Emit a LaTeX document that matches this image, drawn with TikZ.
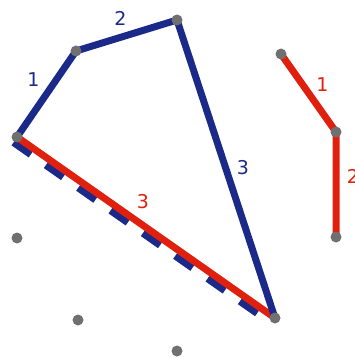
\documentclass[tikz,border=0pt]{standalone}
\usepackage{fontspec}
\setmainfont{DejaVu Sans}
\definecolor{navy}{HTML}{1B2A88}
\definecolor{redline}{HTML}{E0200F}
\definecolor{dotgray}{HTML}{707070}
\tikzset{
  blueline/.style={draw=navy, line width=7pt, line join=round},
  redpath/.style={draw=redline, line width=7pt, line join=round},
  dot/.style={circle, fill=dotgray, inner sep=0pt, minimum size=11pt},
  lbl/.style={font=\fontsize{19}{19}\selectfont, inner sep=0pt}
}
\begin{document}
\begin{tikzpicture}[x=1pt, y=-1pt]
  \useasboundingbox (0,0) rectangle (355,358);
  % vertices
  \coordinate (A) at (17,137);
  \coordinate (B) at (76,51);
  \coordinate (C) at (177,20);
  \coordinate (D) at (275,318);
  \coordinate (E) at (281,54);
  \coordinate (F) at (336,132);
  \coordinate (G) at (336,237);
  \coordinate (H) at (17,238);
  \coordinate (I) at (78,320);
  \coordinate (J) at (177,351);
  % dashed blue under the red side
  \draw[blueline, dash pattern=on 21pt off 18.5pt, shorten >=12pt]
    ([shift={(-3.5,5.5)}]A) -- ([shift={(-3.5,5.5)}]D);
  \draw[redpath] (A) -- node[lbl, text=redline, midway, shift={(-3,-26)}] {3} (D);
  % blue polygon
  \draw[blueline] (A) -- node[lbl, text=navy, midway, shift={(-13,-14)}] {1} (B)
    -- node[lbl, text=navy, midway, shift={(-6,-17)}] {2} (C)
    -- node[lbl, text=navy, midway, shift={(17,-1)}] {3} (D);
  % red path
  \draw[redpath] (E) -- node[lbl, text=redline, midway, shift={(14,-8)}] {1} (F)
    -- node[lbl, text=redline, midway, shift={(17,-8)}] {2} (G);
  % points
  \foreach \p in {A,B,C,D,E,F,G,H,I,J}
    \node[dot] (d\p) at (\p) {};
\end{tikzpicture}
\end{document}
